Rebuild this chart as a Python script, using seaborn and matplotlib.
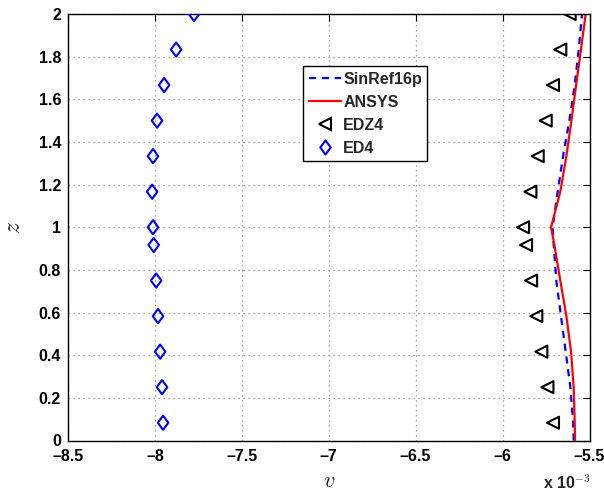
import matplotlib
matplotlib.use("Agg")
import matplotlib.pyplot as plt
import seaborn as sns
from matplotlib.ticker import FuncFormatter
from matplotlib.lines import Line2D
from matplotlib.path import Path

# Vertical coordinate samples
z_line = [0.0, 0.0833, 0.25, 0.4167, 0.5833, 0.75, 0.9167, 1.0,
          1.1667, 1.3333, 1.5, 1.6667, 1.8333, 2.0]
z_pts = [0.0833, 0.25, 0.4167, 0.5833, 0.75, 0.9167, 1.0,
         1.1667, 1.3333, 1.5, 1.6667, 1.8333, 2.0]

# Displacement v along z
sinref16p_v = [-5.591e-3, -5.594e-3, -5.610e-3, -5.637e-3, -5.664e-3, -5.691e-3, -5.706e-3,
               -5.712e-3, -5.683e-3, -5.652e-3, -5.616e-3, -5.585e-3, -5.562e-3, -5.543e-3]
ansys_v = [-5.583e-3, -5.585e-3, -5.591e-3, -5.606e-3, -5.633e-3, -5.668e-3, -5.702e-3,
           -5.721e-3, -5.668e-3, -5.633e-3, -5.604e-3, -5.577e-3, -5.549e-3, -5.522e-3]
edz4_v = [-5.710e-3, -5.742e-3, -5.777e-3, -5.806e-3, -5.836e-3, -5.865e-3, -5.882e-3,
          -5.840e-3, -5.798e-3, -5.752e-3, -5.710e-3, -5.668e-3, -5.614e-3]
ed4_v = [-7.953e-3, -7.959e-3, -7.970e-3, -7.982e-3, -7.993e-3, -8.007e-3, -8.011e-3,
         -8.016e-3, -8.011e-3, -7.988e-3, -7.947e-3, -7.878e-3, -7.775e-3]

x_ticks = [-8.5e-3, -8.0e-3, -7.5e-3, -7.0e-3, -6.5e-3, -6.0e-3, -5.5e-3]
y_ticks = [0, 0.2, 0.4, 0.6, 0.8, 1.0, 1.2, 1.4, 1.6, 1.8, 2.0]

sns.set_theme(style="white")
plt.rcParams["font.family"] = ["Liberation Sans", "DejaVu Sans"]
plt.rcParams["font.weight"] = "bold"
plt.rcParams["mathtext.fontset"] = "cm"

# Diamond a bit wider than matplotlib's thin diamond
diamond = Path([(0, 1), (0.74, 0), (0, -1), (-0.74, 0), (0, 1)],
               [Path.MOVETO, Path.LINETO, Path.LINETO, Path.LINETO, Path.CLOSEPOLY])

fig = plt.figure(figsize=(6.04, 4.92), dpi=100)
ax = fig.add_axes([68 / 604, 1 - 440.5 / 492, (589.5 - 68) / 604, (440.5 - 14) / 492])

dash = (0, (3.2, 2.6))
sns.lineplot(x=sinref16p_v, y=z_line, sort=False, estimator=None, ax=ax,
             color="#0000ff", linewidth=1.6, linestyle=dash)
sns.lineplot(x=ansys_v, y=z_line, sort=False, estimator=None, ax=ax,
             color="#ff0000", linewidth=1.6)
sns.scatterplot(x=edz4_v, y=z_pts, ax=ax, marker="<", s=75,
                facecolor="none", edgecolor="black", linewidth=1.5, zorder=4)
sns.scatterplot(x=ed4_v, y=z_pts, ax=ax, marker=diamond, s=105,
                facecolor="none", edgecolor="#0000ff", linewidth=1.5, zorder=4)

ax.set_xlim(x_ticks[0], x_ticks[-1])
ax.set_ylim(y_ticks[0], y_ticks[-1])
ax.set_xticks(x_ticks)
ax.set_yticks(y_ticks)
ax.xaxis.set_major_formatter(FuncFormatter(lambda x, _: f"{x * 1e3:g}".replace("-", "\u2013")))
ax.yaxis.set_major_formatter(FuncFormatter(lambda y, _: f"{y:g}"))
ax.tick_params(direction="in", length=5, width=0.8, top=True, right=True,
               labelsize=11.5, colors="black")
ax.tick_params(axis="x", pad=6)
ax.tick_params(axis="y", pad=5)
for lab in ax.get_xticklabels() + ax.get_yticklabels():
    lab.set_fontweight("bold")

ax.grid(True, linestyle=(0, (1, 3)), color="0.55", linewidth=0.9)
for sp in ax.spines.values():
    sp.set_color("black")
    sp.set_linewidth(1.0)

ax.set_xlabel("$v$", fontsize=16, labelpad=5)
ax.set_ylabel("$z$", fontsize=17, labelpad=10)

fig.text(543 / 604, 1 - 489 / 492, r"x 10$^{\mathbf{-3}}$", fontsize=11.5,
         fontweight="bold", ha="left", va="baseline")

handles = [
    Line2D([], [], color="#0000ff", linewidth=1.6, linestyle=dash),
    Line2D([], [], color="#ff0000", linewidth=1.6),
    Line2D([], [], linestyle="none", marker="<", markersize=8.7, markerfacecolor="none",
           markeredgecolor="black", markeredgewidth=1.5),
    Line2D([], [], linestyle="none", marker=diamond, markersize=10.2, markerfacecolor="none",
           markeredgecolor="#0000ff", markeredgewidth=1.5),
]
leg = ax.legend(handles, ["SinRef16p", "ANSYS", "EDZ4", "ED4"],
                loc="upper left", bbox_to_anchor=(0.451, 0.878),
                prop={"weight": "bold", "size": 11.5}, frameon=True, fancybox=False,
                edgecolor="black", framealpha=1, handlelength=2.0, handletextpad=0.15,
                borderpad=0.35, labelspacing=0.5, borderaxespad=0)
leg.get_frame().set_linewidth(1.0)

fig.savefig("out.png", dpi=100)
